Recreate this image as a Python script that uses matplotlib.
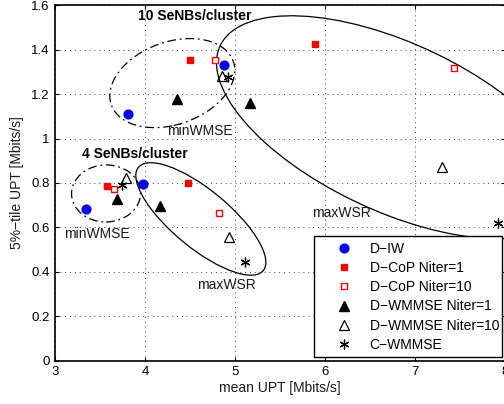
import numpy as np
import matplotlib
matplotlib.use("Agg")
import matplotlib.pyplot as plt
from matplotlib.patches import Ellipse

plt.rcParams['font.family'] = ['Liberation Sans', 'DejaVu Sans']

# mean UPT (x) and 5%-tile UPT (y) per scheme; order of points:
# 4 SeNBs minWMSE, 4 SeNBs maxWSR, 10 SeNBs minWMSE, 10 SeNBs maxWSR
d_iw_x = [3.34, 3.98, 3.81, 4.87]
d_iw_y = [0.683, 0.795, 1.11, 1.331]
cop1_x = [3.57, 4.47, 4.50, 5.886]
cop1_y = [0.788, 0.799, 1.354, 1.427]
cop10_x = [3.65, 4.82, 4.77, 7.43]
cop10_y = [0.773, 0.663, 1.355, 1.319]
wm1_x = [3.69, 4.16, 4.35, 5.16]
wm1_y = [0.727, 0.698, 1.177, 1.159]
wm10_x = [3.79, 4.93, 4.85, 7.30]
wm10_y = [0.821, 0.558, 1.282, 0.873]
cwm_x = [3.74, 5.11, 4.92, 7.92]
cwm_y = [0.791, 0.445, 1.279, 0.618]

labels = ["D\u2212IW", "D\u2212CoP Niter=1", "D\u2212CoP Niter=10",
          "D\u2212WMMSE Niter=1", "D\u2212WMMSE Niter=10", "C\u2212WMMSE"]

x_ticks = [3, 4, 5, 6, 7, 8]
y_ticks = [0, 0.2, 0.4, 0.6, 0.8, 1.0, 1.2, 1.4, 1.6]
y_ticklabels = ['0', '0.2', '0.4', '0.6', '0.8', '1', '1.2', '1.4', '1.6']

# grouping outlines: (center x, center y, width, height, angle, style)
dashdot = (0, (7, 3, 1.5, 3))
groups = [
    (6.774, 1.051, 4.010, 0.810, 171.3, '-'),      # 10 SeNBs maxWSR
    (4.617, 0.638, 1.499, 0.312, 164.2, '-'),      # 4 SeNBs maxWSR
    (3.564, 0.753, 0.767, 0.257, 0.2, dashdot),    # 4 SeNBs minWMSE
    (4.300, 1.250, 1.394, 0.383, 5.1, dashdot),    # 10 SeNBs minWMSE
]

# annotations: (x, y, text, bold)
notes = [
    (4.552, 1.552, "10 SeNBs/cluster", True),
    (3.880, 0.931, "4 SeNBs/cluster", True),
    (4.608, 1.034, "minWMSE", False),
    (3.458, 0.570, "minWMSE", False),
    (4.897, 0.341, "maxWSR", False),
    (6.180, 0.667, "maxWSR", False),
]

fig = plt.figure(figsize=(5.04, 4.04), dpi=100)
ax = fig.add_axes([55.3/504, 43.4/404, 450/504, 355.2/404])
ax.set_xlim(3, 8)
ax.set_ylim(0, 1.6)

for cx, cy, w, h, ang, ls in groups:
    ax.add_patch(Ellipse((cx, cy), w, h, angle=ang, fill=False,
                         ec='k', lw=0.9, ls=ls, zorder=3))

asterisk = (6, 2, 0)
ax.plot(d_iw_x, d_iw_y, 'o', color='b', ms=6.3, ls='none', label=labels[0], zorder=4)
ax.plot(cop1_x, cop1_y, 's', color='r', ms=5, ls='none', label=labels[1], zorder=4)
ax.plot(cop10_x, cop10_y, 's', mfc='w', mec='r', mew=1, ms=5, ls='none',
        label=labels[2], zorder=4)
ax.plot(wm1_x, wm1_y, '^', color='k', ms=6.5, ls='none', label=labels[3], zorder=4)
ax.plot(wm10_x, wm10_y, '^', mfc='none', mec='k', mew=0.9, ms=6.5, ls='none',
        label=labels[4], zorder=4)
ax.plot(cwm_x, cwm_y, marker=asterisk, color='k', mew=0.9, ms=7, ls='none',
        label=labels[5], zorder=4)

for x, y, t, b in notes:
    ax.text(x, y, t, ha='center', va='center', fontsize=10,
            fontweight='bold' if b else 'normal', color='k' if b else '0.1')

ax.set_xticks(x_ticks)
ax.set_yticks(y_ticks)
ax.set_yticklabels(y_ticklabels)
ax.grid(True, ls=(0, (1, 4)), color='0.25', lw=0.7)
ax.tick_params(direction='in', top=True, right=True, labelsize=9.5,
               length=3, width=0.8, pad=4)
for sp in ax.spines.values():
    sp.set_linewidth(1.2)
ax.set_xlabel("mean UPT [Mbits/s]", fontsize=10, labelpad=2, color='0.1')
ax.set_ylabel("5%\u2212tile UPT [Mbits/s]", fontsize=10, labelpad=5, color='0.1')

leg = ax.legend(loc='upper left', bbox_to_anchor=(0.575, 0.0101, 0.4177, 0.3407),
                mode='expand', fontsize=10, frameon=True, fancybox=False,
                edgecolor='k', framealpha=1, borderpad=0.4, labelspacing=0.38,
                handlelength=3.5, handletextpad=0.1, borderaxespad=0)
leg.get_frame().set_linewidth(1.0)
leg.set_zorder(5)

fig.savefig("out.png", dpi=100)
